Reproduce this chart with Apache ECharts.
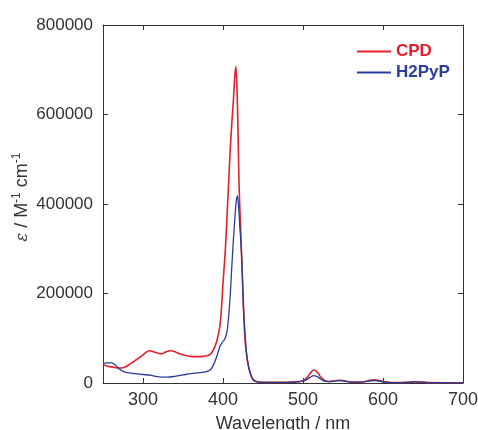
<!DOCTYPE html>
<html>
<head>
<meta charset="utf-8">
<script src="https://cdn.jsdelivr.net/npm/echarts@6/dist/echarts.min.js"></script>
<style>
html,body{margin:0;padding:0;background:#fff;}
#chart{width:478px;height:430px;}
</style>
</head>
<body>
<div id="chart"></div>
<script>
// Data
const seriesNames = ['CPD', 'H2PyP'];
const cpdWavelength = [250,255,260,265,270,275,280,285,290,295,300,305,309,313,318,323,328,334,340,345,350,355,360,365,370,375,380,384,388,392,396,398,400,403,405,407,409,411,413,414.5,416,417.5,419,420,421.5,423,425,427,429,432,435,438,442,446,455,470,485,495,500,505,510,513,517,522,527,532,538,545,550,555,562,570,578,585,590,595,602,610,620,630,640,648,660,680,700];
const cpdEpsilon = [41000,38000,36000,34500,33500,34000,38000,44000,50000,56000,63000,70000,72000,70000,67000,65000,69000,72000,70000,66000,63000,61000,59500,59000,59000,59500,61000,64000,74000,92000,126000,165000,223000,300000,372000,445000,520000,580000,632000,680000,707000,660000,540000,447000,370000,297000,200000,112000,70000,36000,17000,7000,3500,2000,1500,1500,2000,3000,5000,12000,24000,29000,26000,14000,6000,3500,4500,6000,5500,3500,2000,2000,3500,6500,7000,5500,2500,1200,1000,1500,2500,2000,800,500,500];
const h2pypWavelength = [250,255,260,265,270,275,280,290,300,310,320,330,340,350,360,370,378,384,388,392,396,399,402,405,407,409,411,413,415,416.5,418,419.5,421,422.5,424,425.5,427,429,431,434,438,442,450,470,490,500,505,510,513,517,522,527,532,538,545,550,555,562,570,578,585,590,595,602,610,620,630,640,648,660,700];
const h2pypEpsilon = [44000,45000,45000,41000,32000,26000,23000,21000,19000,17000,13500,13000,15000,18000,21000,23000,25000,29000,40000,58000,81000,91000,97000,115000,148000,195000,260000,320000,372000,405000,418000,395000,350000,310000,250000,170000,125000,74000,45000,22000,6000,2500,1500,1500,2000,4000,8000,14000,16500,15000,9000,4000,3000,4000,5500,5000,3000,2000,2000,3000,5000,5500,4500,2000,1000,1000,1200,2500,2000,800,500];
const xTicks = [300, 400, 500, 600, 700];
const yTicks = [0, 200000, 400000, 600000, 800000];
const yTitle = '{eps|ε}{n| / M}{sup|-1}{n| cm}{sup|-1}';

const red = '#e3202b';
const blue = '#2b3d98';
const axisColor = '#333';
const font = 'Liberation Sans, Arial, sans-serif';

const zip = (xs, ys) => xs.map((x, i) => [x, ys[i]]);

const chart = echarts.init(document.getElementById('chart'), null, {renderer: 'canvas'});

const baseX = {
  type: 'value', min: 250, max: 700, interval: 50,
  axisLine: {show: true, onZero: false, lineStyle: {color: axisColor, width: 1}},
  axisTick: {show: true, inside: true, length: 5, lineStyle: {color: axisColor},
    customValues: xTicks},
  splitLine: {show: false}
};
const baseY = {
  type: 'value', min: 0, max: 800000, interval: 200000,
  axisLine: {show: true, onZero: false, lineStyle: {color: axisColor, width: 1}},
  axisTick: {show: true, inside: true, length: 5, lineStyle: {color: axisColor},
    customValues: yTicks},
  splitLine: {show: false}
};

chart.setOption({
  animation: false,
  backgroundColor: '#fff',
  grid: {left: 103, right: 15, top: 25, bottom: 47, containLabel: false, outerBoundsMode: 'none'},
  legend: {
    orient: 'vertical', left: 352, top: 38, itemGap: 4,
    itemWidth: 34, itemHeight: 2, icon: 'rect',
    textStyle: {fontFamily: font, fontSize: 17, fontWeight: 'bold'},
    data: [
      {name: 'CPD', textStyle: {color: red}},
      {name: 'H2PyP', textStyle: {color: blue}}
    ]
  },
  graphic: [{
    type: 'text', x: 21, y: 197, rotation: Math.PI / 2,
    style: {
      text: yTitle, align: 'center', verticalAlign: 'middle',
      fill: '#333', font: '18px Liberation Sans, Arial, sans-serif',
      rich: {
        eps: {fontStyle: 'italic', fontFamily: 'DejaVu Serif, serif', fontSize: 16, fill: '#333', verticalAlign: 'bottom', lineHeight: 20},
        n: {fontSize: 18, fontFamily: font, fill: '#333', verticalAlign: 'bottom', lineHeight: 20},
        sup: {fontSize: 12, fontFamily: font, fill: '#333', verticalAlign: 'top', lineHeight: 20}
      }
    }
  }],
  xAxis: [
    Object.assign({}, baseX, {
      position: 'bottom',
      axisLabel: {show: true, margin: 8, color: '#333', fontFamily: font, fontSize: 18,
        customValues: xTicks},
      name: 'Wavelength / nm', nameLocation: 'middle', nameGap: 32,
      nameTextStyle: {color: '#333', fontFamily: font, fontSize: 18}
    }),
    Object.assign({}, baseX, {position: 'top', axisLabel: {show: false}})
  ],
  yAxis: [
    Object.assign({}, baseY, {
      position: 'left',
      axisLabel: {show: true, margin: 10, color: '#333', fontFamily: font, fontSize: 17,
        customValues: yTicks, formatter: v => String(v)}
    }),
    Object.assign({}, baseY, {position: 'right', axisLabel: {show: false}})
  ],
  series: [
    {
      name: seriesNames[0], type: 'line', xAxisIndex: 0, yAxisIndex: 0,
      data: zip(cpdWavelength, cpdEpsilon),
      symbol: 'none', smooth: 0.3, z: 2,
      lineStyle: {color: red, width: 1.6},
      itemStyle: {color: red}
    },
    {
      name: seriesNames[1], type: 'line', xAxisIndex: 0, yAxisIndex: 0,
      data: zip(h2pypWavelength, h2pypEpsilon),
      symbol: 'none', smooth: 0.3, z: 3,
      lineStyle: {color: blue, width: 1.3},
      itemStyle: {color: blue}
    }
  ]
});
</script>
</body>
</html>
